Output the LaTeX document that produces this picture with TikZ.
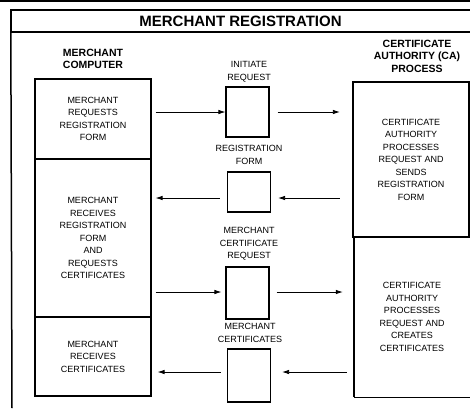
\documentclass[tikz,border=0pt]{standalone}
\usepackage{fontspec}
\setmainfont{Liberation Sans}
\usetikzlibrary{arrows.meta}
\begin{document}
\begin{tikzpicture}[x=1pt,y=-1pt,
  body/.style={font=\fontsize{9}{12.5}\selectfont,align=center,inner sep=0pt},
  head/.style={font=\bfseries\fontsize{10.5}{12.5}\selectfont,align=center,inner sep=0pt},
  lbox/.style={body,draw,line width=1.1pt,minimum width=116pt},
  mbox/.style={draw,line width=1.1pt,inner sep=0pt,minimum width=43pt},
  rbox/.style={body,minimum width=116pt},
  frame/.style={line width=1.5pt},
  arr/.style={line width=0.8pt,-{Latex[length=7pt,width=4.5pt]}}]
\useasboundingbox (0,0) rectangle (470,410);

% page rule and outer frame
\draw[frame] (0,1) -- (470,1);
\node[minimum width=459pt,minimum height=22pt,inner sep=0pt] (title) at (240.5,21)
  {\bfseries\fontsize{15}{18}\selectfont MERCHANT REGISTRATION};
\draw[frame] (title.north east) -- (title.north west) -- (title.south west) -- (title.south east);
\draw[frame] (title.south west) -- (12,408);

% column headings
\node[head] (hmc) at (93,59) {MERCHANT\\COMPUTER};
\node[head] (hca) at (417,56) {CERTIFICATE\\AUTHORITY (CA)\\PROCESS};

% merchant computer column
\node[lbox,minimum height=80pt] (L1) at (93,119) {MERCHANT\\REQUESTS\\REGISTRATION\\FORM};
\node[lbox,minimum height=158pt] (L2) at (93,238) {MERCHANT\\RECEIVES\\REGISTRATION\\FORM\\AND\\REQUESTS\\CERTIFICATES};
\node[lbox,minimum height=79pt] (L3) at (93,356.5) {MERCHANT\\RECEIVES\\CERTIFICATES};
\draw[line width=1.8pt] (L3.south west) -- (L3.south east);

% messages in transit
\node[mbox,minimum height=50pt] (M1) at (247.5,112) {};
\node[mbox,minimum height=40pt] (M2) at (249,192) {};
\node[mbox,minimum height=52pt] (M3) at (247.5,293) {};
\node[mbox,minimum height=53pt] (M4) at (249,375.5) {};
\node[body] (t1) at (249,72) {INITIATE\\REQUEST};
\node[body] (t2) at (249,155) {REGISTRATION\\FORM};
\node[body] (t3) at (249,244) {MERCHANT\\CERTIFICATE\\REQUEST};
\node[body] (t4) at (250,333) {MERCHANT\\CERTIFICATES};

% certificate authority column
\node[rbox,draw,line width=2.2pt,minimum height=155pt] (R1) at (411,159.5)
  {CERTIFICATE\\AUTHORITY\\PROCESSES\\REQUEST AND\\SENDS\\REGISTRATION\\FORM};
\node[rbox,minimum height=160pt] (R2) at (412,317)
  {CERTIFICATE\\AUTHORITY\\PROCESSES\\REQUEST AND\\CREATES\\CERTIFICATES};
\draw[line width=2.2pt] (R2.north east) -- (R2.north west) -- (R2.south west);
\draw[line width=1.1pt] (R2.south west) -- (R2.south east);

% rows of message flow
\coordinate (r1) at (0,112);
\coordinate (r2) at (0,198);
\coordinate (r3) at (0,292);
\coordinate (r4) at (0,372);
\draw[arr,shorten <=4pt] (L1.east |- r1) -- (M1.west |- r1);
\draw[arr,shorten <=8pt,shorten >=12pt] (M1.east |- r1) -- (R1.west |- r1);
\draw[arr,shorten <=7pt,shorten >=4pt] (M2.west |- r2) -- (L2.east |- r2);
\draw[arr,shorten <=12pt,shorten >=7pt] (R1.west |- r2) -- (M2.east |- r2);
\draw[arr,shorten <=4pt,shorten >=4pt] (L2.east |- r3) -- (M3.west |- r3);
\draw[arr,shorten <=7pt,shorten >=11pt] (M3.east |- r3) -- (R2.west |- r3);
\draw[arr,shorten <=6pt,shorten >=6pt] (M4.west |- r4) -- (L3.east |- r4);
\draw[arr,shorten <=7pt,shorten >=11pt] (R2.west |- r4) -- (M4.east |- r4);
\end{tikzpicture}
\end{document}
